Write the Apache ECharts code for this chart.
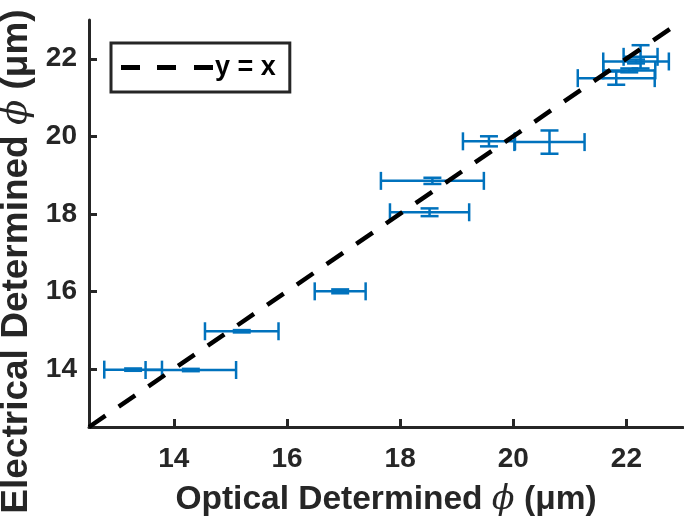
<!DOCTYPE html>
<html>
<head>
<meta charset="utf-8">
<script src="https://cdn.jsdelivr.net/npm/echarts@6/dist/echarts.min.js"></script>
<style>
html,body{margin:0;padding:0;background:#fff;}
#chart{width:684px;height:526px;}
</style>
</head>
<body>
<div id="chart"></div>
<script>
// Data
const opticalPhi      = [13.28, 14.30, 15.20, 16.94, 18.57, 18.52, 19.57, 20.64, 21.82, 22.17, 22.05, 22.25];
const opticalErr      = [0.51, 0.80, 0.65, 0.45, 0.91, 0.70, 0.46, 0.62, 0.68, 0.58, 0.46, 0.30];
const electricalPhi   = [13.98, 13.97, 14.97, 16.00, 18.85, 18.04, 19.87, 19.85, 21.50, 21.93, 21.70, 22.05];
const electricalErr   = [0.03, 0.03, 0.03, 0.05, 0.08, 0.10, 0.13, 0.30, 0.17, 0.05, 0.05, 0.30];
const tickValues      = [14, 16, 18, 20, 22];
const axisMin = 12.5, axisMax = 23;
const identityLine    = [[12.5, 12.5], [23, 23]];

const axisColor = '#262626';
const barColor = '#0072BD';
const fontFam = '"Liberation Sans", Arial, Helvetica, sans-serif';

const errData = opticalPhi.map((x, i) => [x, electricalPhi[i], opticalErr[i], electricalErr[i]]);

const chart = echarts.init(document.getElementById('chart'));

function axisCommon(nameSize) {
  return {
    type: 'value',
    min: axisMin,
    max: axisMax,
    nameLocation: 'middle',
    axisLine: { show: true, lineStyle: { color: axisColor, width: 3 } },
    axisTick: { show: true, inside: true, length: 8, customValues: tickValues, lineStyle: { color: axisColor, width: 3 } },
    axisLabel: { customValues: tickValues, color: axisColor, fontSize: 28, fontWeight: 'bold', fontFamily: fontFam },
    splitLine: { show: false },
    nameTextStyle: {
      color: axisColor, fontSize: nameSize, fontWeight: 'bold', fontFamily: fontFam,
      rich: { i: { fontStyle: 'italic', fontWeight: 'normal', fontSize: nameSize, fontFamily: '"DejaVu Serif", serif', color: axisColor } }
    }
  };
}

const xAxis = Object.assign(axisCommon(33.5), {
  name: 'Optical Determined {i|ϕ} (μm)',
  nameGap: 56
});
xAxis.axisLabel.margin = 18;
const yAxis = Object.assign(axisCommon(37), {
  name: 'Electrical Determined {i|ϕ} (μm)',
  nameGap: 41
});
yAxis.nameTextStyle.padding = [0, 76, 0, 0];
yAxis.axisLabel.margin = 12;

const cap = 9;

chart.setOption({
  animation: false,
  backgroundColor: '#fff',
  grid: { left: 89, right: 1, top: 20, bottom: 99, containLabel: false, outerBoundsMode: 'none' },
  xAxis: xAxis,
  yAxis: yAxis,
  legend: {
    show: true,
    left: 111,
    top: 43,
    orient: 'horizontal',
    data: ['y = x'],
    icon: 'path://M0,0H19V5H0Z M36,0H55V5H36Z M73,0H92V5H73Z',
    itemWidth: 92,
    itemHeight: 5,
    itemGap: 0,
    padding: [11, 14, 11, 10],
    borderColor: axisColor,
    borderWidth: 3,
    backgroundColor: '#fff',
    textStyle: { color: '#000', fontSize: 27, lineHeight: 24, fontWeight: 'bold', fontFamily: fontFam, padding: [0, 0, 0, -3] },
    selectedMode: false
  },
  series: [
    {
      type: 'custom',
      name: 'data',
      z: 2,
      data: errData,
      renderItem: function (params, api) {
        const x = api.value(0), y = api.value(1), xe = api.value(2), ye = api.value(3);
        const pL = api.coord([x - xe, y]);
        const pR = api.coord([x + xe, y]);
        const pB = api.coord([x, y - ye]);
        const pT = api.coord([x, y + ye]);
        const st = { stroke: barColor, lineWidth: 2.5, fill: null };
        const line = (x1, y1, x2, y2) => ({ type: 'line', shape: { x1, y1, x2, y2 }, style: st });
        return {
          type: 'group',
          children: [
            line(pL[0], pL[1], pR[0], pR[1]),
            line(pL[0], pL[1] - cap, pL[0], pL[1] + cap),
            line(pR[0], pR[1] - cap, pR[0], pR[1] + cap),
            line(pB[0], pB[1], pT[0], pT[1]),
            line(pB[0] - cap, pB[1], pB[0] + cap, pB[1]),
            line(pT[0] - cap, pT[1], pT[0] + cap, pT[1])
          ]
        };
      }
    },
    {
      type: 'line',
      name: 'y = x',
      z: 5,
      data: identityLine,
      symbol: 'none',
      color: '#000',
      itemStyle: { color: '#000' },
      lineStyle: { color: '#000', width: 4.5, type: [20, 16], cap: 'butt' }
    }
  ]
});
</script>
</body>
</html>
